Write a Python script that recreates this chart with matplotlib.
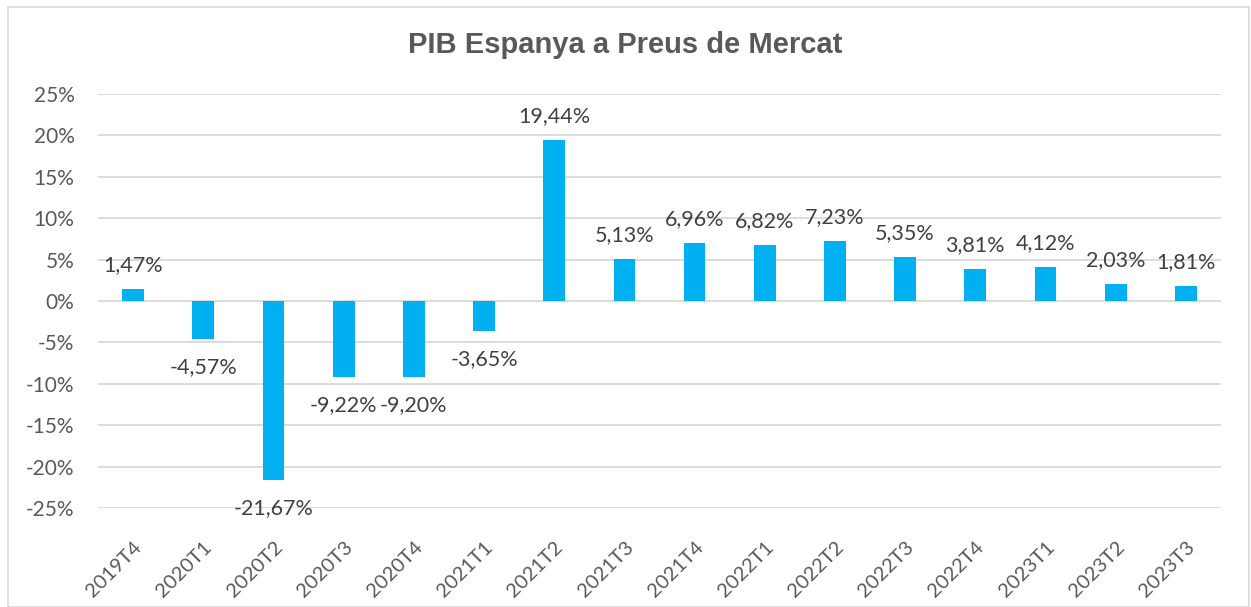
import numpy as np
import matplotlib.pyplot as plt
from matplotlib.patches import Rectangle

# --- Datos ---
trimestres = ["2019T4", "2020T1", "2020T2", "2020T3", "2020T4", "2021T1", "2021T2", "2021T3",
              "2021T4", "2022T1", "2022T2", "2022T3", "2022T4", "2023T1", "2023T2", "2023T3"]
pib = [1.47, -4.57, -21.67, -9.22, -9.20, -3.65, 19.44, 5.13,
       6.96, 6.82, 7.23, 5.35, 3.81, 4.12, 2.03, 1.81]
y_ticks = [-25, -20, -15, -10, -5, 0, 5, 10, 15, 20, 25]

plt.rcParams['font.family'] = ['Lato', 'DejaVu Sans']

fig = plt.figure(figsize=(12.51, 6.07), dpi=100)
ax = fig.add_axes([98 / 1251, 1 - 508 / 607, (1221 - 98) / 1251, (508 - 94) / 607])

x = np.arange(len(trimestres))
ax.bar(x, pib, width=0.31, color='#00B0F0', zorder=3)

ax.set_xlim(-0.5, len(trimestres) - 0.5)
ax.set_ylim(-25, 25)
ax.set_yticks(y_ticks)
ax.set_yticklabels([f"{v}%" for v in y_ticks], fontsize=15, color='#595959')
ax.set_xticks(x)
ax.set_xticklabels(trimestres, rotation=45, ha='right', rotation_mode='anchor',
                   fontsize=14.5, color='#595959')
ax.tick_params(length=0)
ax.tick_params(axis='y', pad=17)
ax.tick_params(axis='x', pad=22)
ax.grid(axis='y', color='#D9D9D9', linewidth=1.3, zorder=0)
for s in ax.spines.values():
    s.set_visible(False)

# etiquetas de datos
for xi, v in zip(x, pib):
    txt = f"{v:.2f}%".replace('.', ',')
    if v >= 0:
        ax.annotate(txt, (xi, v), xytext=(0, 10), textcoords='offset points',
                    ha='center', va='bottom', fontsize=15.5, color='#404040', zorder=4)
    else:
        ax.annotate(txt, (xi, v), xytext=(0, -13), textcoords='offset points',
                    ha='center', va='top', fontsize=15.5, color='#404040', zorder=4)

fig.text(0.5, 1 - 45 / 607, "PIB Espanya a Preus de Mercat", ha='center', va='center',
         fontsize=21, fontweight='bold', color='#595959', family='Liberation Sans')

fig.patches.append(Rectangle((8 / 1251, 0), 1241 / 1251, 1 - 7 / 607, transform=fig.transFigure,
                             fill=False, edgecolor='#D9D9D9', linewidth=1.2))

fig.savefig('out.png', dpi=100)
